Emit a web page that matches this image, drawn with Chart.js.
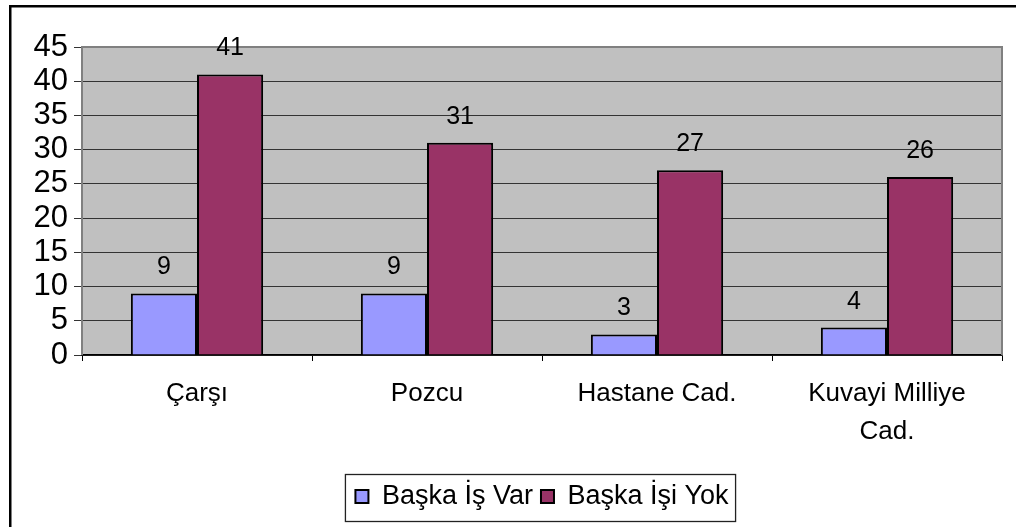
<!DOCTYPE html>
<html>
<head>
<meta charset="utf-8">
<script src="https://cdn.jsdelivr.net/npm/chart.js@4/dist/chart.umd.min.js"></script>
<style>
  html, body { margin: 0; padding: 0; background: #fff; }
  #wrap { width: 1016px; height: 527px; }
</style>
</head>
<body>
<div id="wrap"><canvas id="chart"></canvas></div>
<script>
// Data
const categories = ['Çarşı', 'Pozcu', 'Hastane Cad.', ['Kuvayi Milliye', 'Cad.']];
const baskaIsVar = [9, 9, 3, 4];
const baskaIsiYok = [41, 31, 27, 26];
const yTicks = [0, 5, 10, 15, 20, 25, 30, 35, 40, 45];

const FONT = "'Liberation Sans', Arial, sans-serif";
const LEGEND_SHIFT = 41; // legend sits a bit right of the page centre

// gray plot area + outer frame + legend box + value labels
const decor = {
    id: 'decor',
    afterUpdate(chart) {
        const lg = chart.legend;
        lg.left += LEGEND_SHIFT;
        lg.right += LEGEND_SHIFT;
        (lg.legendHitBoxes || []).forEach(b => { b.left += LEGEND_SHIFT; });
    },
    beforeDraw(chart) {
        const { ctx, chartArea: a } = chart;
        ctx.save();
        ctx.fillStyle = '#c0c0c0';
        ctx.fillRect(a.left, a.top, a.right - a.left, a.bottom - a.top);
        ctx.restore();
    },
    beforeDatasetsDraw(chart) {
        const { ctx, chartArea: a } = chart;
        ctx.save();
        ctx.strokeStyle = '#808080';
        ctx.lineWidth = 2;
        ctx.beginPath();
        ctx.moveTo(a.left, a.bottom);
        ctx.lineTo(a.left, a.top);
        ctx.lineTo(a.right, a.top);
        ctx.lineTo(a.right, a.bottom);
        ctx.stroke();
        ctx.restore();
    },
    afterDatasetsDraw(chart) {
        const { ctx } = chart;
        ctx.save();
        ctx.fillStyle = '#000';
        ctx.font = '25px ' + FONT;
        ctx.textAlign = 'center';
        ctx.textBaseline = 'middle';
        chart.data.datasets.forEach((ds, i) => {
            chart.getDatasetMeta(i).data.forEach((bar, j) => {
                ctx.fillText(String(ds.data[j]), bar.x, bar.y - 26);
            });
        });
        ctx.restore();
    },
    afterDraw(chart) {
        const { ctx } = chart;
        ctx.save();
        // outer frame (only top and left are inside the picture)
        ctx.fillStyle = '#000';
        ctx.fillRect(9, 5, chart.width, 2.5);
        ctx.fillRect(9, 5, 2.5, chart.height);
        // legend frame
        const boxes = chart.legend.legendHitBoxes;
        if (boxes && boxes.length) {
            let l = Infinity, r = -Infinity, cy = 0;
            boxes.forEach(b => {
                l = Math.min(l, b.left);
                r = Math.max(r, b.left + b.width);
                cy += b.top + b.height / 2;
            });
            cy /= boxes.length;
            ctx.strokeStyle = '#222';
            ctx.lineWidth = 1.3;
            ctx.strokeRect(l - 10, cy - 22, r - l + 17, 47);
        }
        ctx.restore();
    }
};

new Chart(document.getElementById('chart'), {
    type: 'bar',
    data: {
        labels: categories,
        datasets: [
            {
                label: 'Başka İş Var',
                data: baskaIsVar,
                backgroundColor: '#9999ff',
                borderColor: '#000',
                borderWidth: 2,
            },
            {
                label: 'Başka İşi Yok',
                data: baskaIsiYok,
                backgroundColor: '#993366',
                borderColor: '#000',
                borderWidth: 2,
            },
        ],
    },
    options: {
        responsive: true,
        maintainAspectRatio: false,
        animation: false,
        datasets: {
            bar: { categoryPercentage: 0.575, barPercentage: 1 }
        },
        layout: {
            padding: { top: 47, right: 14, left: 0, bottom: 7 }
        },
        plugins: {
            legend: {
                position: 'bottom',
                labels: {
                    color: '#000',
                    font: { family: FONT, size: 27 },
                    boxWidth: 13,
                    boxHeight: 13,
                    padding: 8,
                },
            },
            tooltip: { enabled: false },
        },
        scales: {
            x: {
                afterFit(scale) { scale.height = 120; },
                grid: {
                    offset: true,
                    drawOnChartArea: false,
                    drawTicks: true,
                    tickLength: 6,
                    color: '#000',
                },
                border: { color: '#000', width: 1.5 },
                ticks: {
                    color: '#000',
                    padding: 14,
                    maxRotation: 0,
                    font: { family: FONT, size: 26, lineHeight: 1.45 },
                },
            },
            y: {
                min: 0,
                max: 45,
                afterFit(scale) { scale.width = 82; },
                afterBuildTicks(scale) {
                    scale.ticks = yTicks.map(v => ({ value: v }));
                },
                grid: {
                    color: '#333',
                    lineWidth: 1,
                    tickLength: 8,
                },
                border: { display: false },
                ticks: {
                    color: '#000',
                    padding: 6,
                    autoSkip: false,
                    font: { family: FONT, size: 31 },
                },
            },
        },
    },
    plugins: [decor],
});
</script>
</body>
</html>
